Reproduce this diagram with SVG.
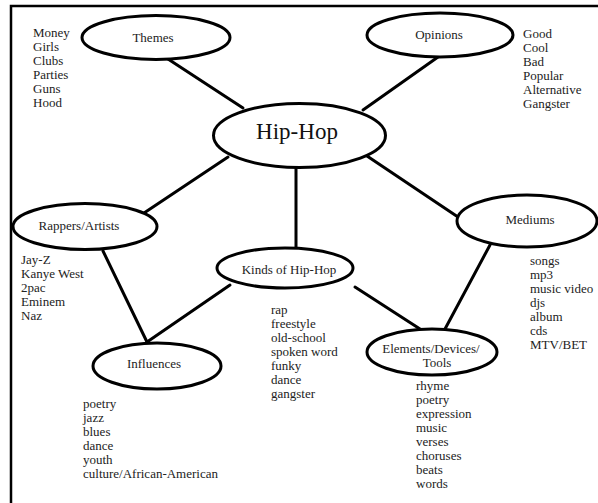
<svg xmlns="http://www.w3.org/2000/svg" width="598" height="503" viewBox="0 0 598 503">
<style>
.n{fill:#fff;stroke:#000;stroke-width:3}
.c line{stroke:#000;stroke-width:3;stroke-linecap:round}
text{font-family:'Liberation Serif','DejaVu Serif',serif;font-size:13px;fill:#222}
.lbl{text-anchor:middle}
.big{font-size:23px;fill:#111}
</style>
<rect width="598" height="503" fill="#fff"/>
<path d="M11,503 V6 H598" fill="none" stroke="#000" stroke-width="2.5"/>
<g class="c" id="connectors">
<line x1="168" y1="59" x2="243" y2="108"/>
<line x1="438" y1="57" x2="363" y2="110"/>
<line x1="228" y1="157" x2="144" y2="213"/>
<line x1="296" y1="167" x2="296" y2="248"/>
<line x1="367" y1="156" x2="458" y2="217"/>
<line x1="103" y1="251" x2="147" y2="342"/>
<line x1="230" y1="285" x2="147" y2="342"/>
<line x1="355" y1="287" x2="420" y2="329"/>
<line x1="490" y1="245" x2="445" y2="329"/>
</g>
<g font-family="Liberation Serif, DejaVu Serif, serif">
<g id="hiphop">
<ellipse class="n" cx="299.5" cy="135.5" rx="86" ry="32"/>
<text class="lbl big" x="297" y="139">Hip-Hop</text>
</g>
<g id="themes">
<ellipse class="n" cx="156" cy="37.5" rx="74" ry="22"/>
<text class="lbl" x="153" y="42">Themes</text>
<text x="33" y="37">Money</text>
<text x="33" y="51">Girls</text>
<text x="33" y="65">Clubs</text>
<text x="33" y="79">Parties</text>
<text x="33" y="93">Guns</text>
<text x="33" y="107">Hood</text>
</g>
<g id="opinions">
<ellipse class="n" cx="440" cy="35" rx="73" ry="22"/>
<text class="lbl" x="439" y="39">Opinions</text>
<text x="523" y="38">Good</text>
<text x="523" y="52">Cool</text>
<text x="523" y="66">Bad</text>
<text x="523" y="80">Popular</text>
<text x="523" y="94">Alternative</text>
<text x="523" y="108">Gangster</text>
</g>
<g id="rappers">
<ellipse class="n" cx="85" cy="226.5" rx="72" ry="23"/>
<text class="lbl" x="79" y="230">Rappers/Artists</text>
<text x="21" y="264">Jay-Z</text>
<text x="21" y="278">Kanye West</text>
<text x="21" y="292">2pac</text>
<text x="21" y="306">Eminem</text>
<text x="21" y="320">Naz</text>
</g>
<g id="kinds">
<ellipse class="n" cx="285" cy="268" rx="68" ry="20"/>
<text class="lbl" x="289" y="274">Kinds of Hip-Hop</text>
<text x="271" y="314">rap</text>
<text x="271" y="328">freestyle</text>
<text x="271" y="342">old-school</text>
<text x="271" y="356">spoken word</text>
<text x="271" y="370">funky</text>
<text x="271" y="384">dance</text>
<text x="271" y="398">gangster</text>
</g>
<g id="mediums">
<ellipse class="n" cx="527" cy="221" rx="70" ry="26"/>
<text class="lbl" x="530" y="224">Mediums</text>
<text x="530" y="265">songs</text>
<text x="530" y="279">mp3</text>
<text x="530" y="293">music video</text>
<text x="530" y="307">djs</text>
<text x="530" y="321">album</text>
<text x="530" y="335">cds</text>
<text x="530" y="349">MTV/BET</text>
</g>
<g id="influences">
<ellipse class="n" cx="157" cy="366" rx="64" ry="23"/>
<text class="lbl" x="154" y="368">Influences</text>
<text x="83" y="408">poetry</text>
<text x="83" y="422">jazz</text>
<text x="83" y="436">blues</text>
<text x="83" y="450">dance</text>
<text x="83" y="464">youth</text>
<text x="83" y="478">culture/African-American</text>
</g>
<g id="elements">
<ellipse class="n" cx="432" cy="352" rx="65" ry="23"/>
<text class="lbl" x="431" y="353">Elements/Devices/</text>
<text class="lbl" x="437" y="367">Tools</text>
<text x="416" y="390">rhyme</text>
<text x="416" y="404">poetry</text>
<text x="416" y="418">expression</text>
<text x="416" y="432">music</text>
<text x="416" y="446">verses</text>
<text x="416" y="460">choruses</text>
<text x="416" y="474">beats</text>
<text x="416" y="488">words</text>
</g>
</g>
</svg>
